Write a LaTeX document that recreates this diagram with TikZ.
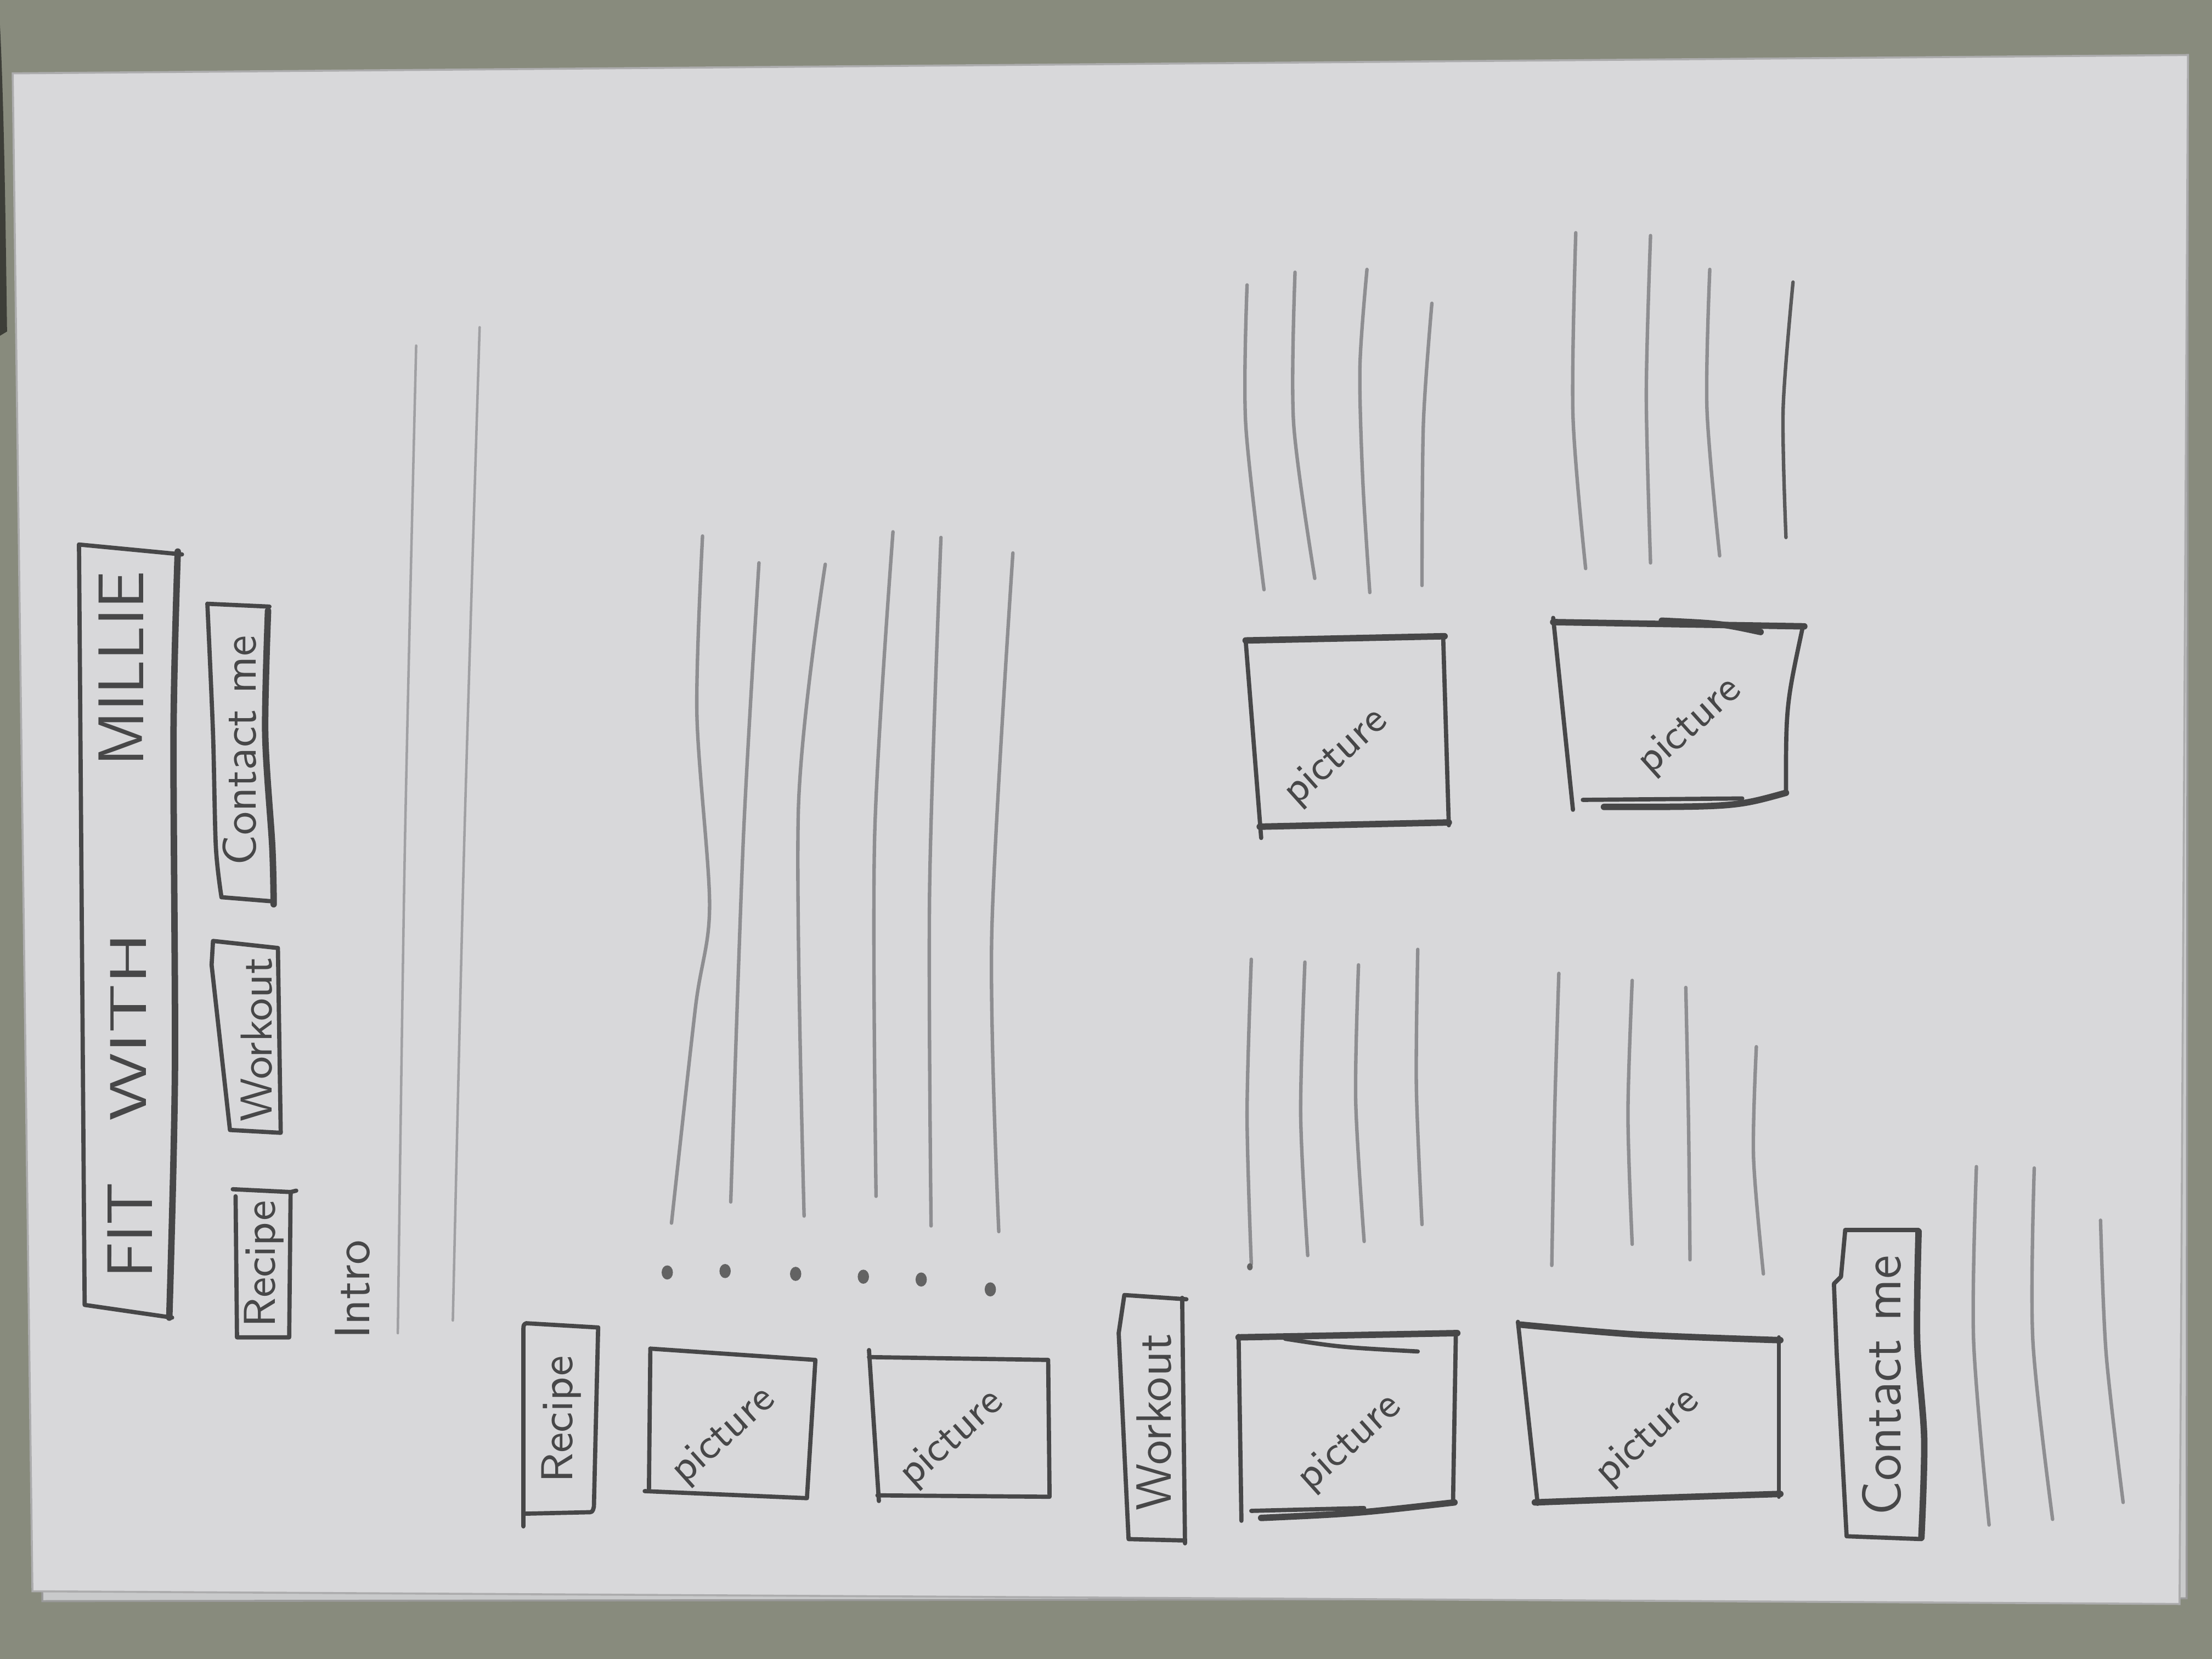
\documentclass[tikz,border=0pt]{standalone}
\usepackage{fontspec}
\definecolor{wall}{HTML}{888B7D}
\definecolor{sheet}{HTML}{D8D8DA}
\definecolor{undersheet}{HTML}{C9CACB}
\definecolor{graphite}{HTML}{474748}
\definecolor{lightgraphite}{HTML}{8E8E91}
\tikzset{
  pen/.style={draw=graphite, line width=0.85pt, line join=round, line cap=round},
  heavypen/.style={pen, line width=1.3pt},
  textline/.style={draw=lightgraphite, line width=0.7pt, line cap=round},
  faintline/.style={draw=lightgraphite!75!sheet, line width=0.5pt, line cap=round},
  hand/.style={text=graphite, inner sep=0pt},
  sidelabel/.style={hand, rotate=90},
  piclabel/.style={hand, rotate=42, font=\sffamily\fontsize{8.5}{9}\selectfont},
  bulletdot/.style={fill=graphite!85, draw=none},
}
\begin{document}
\begin{tikzpicture}[x=0.01cm, y=-0.01cm]
        	\useasboundingbox (0,0) rectangle (1568,1176);
        	% Table and paper:
        	\fill[wall] (0,0) rectangle (1568,1176);
        	\fill[black!55!wall] (0,18) .. controls (3,80) and (4,160) .. (5,235) -- (0,238) -- cycle;
        	\filldraw[fill=undersheet, draw=graphite!55] (30,60) -- (1551,40) -- (1550,1133) -- (30,1135) -- cycle;
        	\filldraw[fill=sheet, draw=graphite!45] (9,52) -- (1551,39) -- (1545,1137) -- (23,1128) -- cycle;

        	% Header:
        	\draw[pen] (56,386) -- (129,393);
        	\draw[heavypen] plot[smooth] coordinates {(126,391) (123,520) (124,760) (120,934)};
        	\draw[pen] (56,386) -- (60,925) -- (122,934);
        	\node[sidelabel, font=\sffamily\fontsize{13}{14}\selectfont] (fit) at (92,872) {FIT};
        	\node[sidelabel, font=\sffamily\fontsize{13}{14}\selectfont] (with) at (91,728) {\scalebox{1.15}[0.8]{WITH}};
        	\node[sidelabel, font=\sffamily\fontsize{13}{14}\selectfont] (millie) at (86,474) {MILLIE};

        	% Menu:
        	\draw[pen] (167,848) -- (168,948) -- (205,948) -- (206,845) -- (165,843);
        	\draw[pen] (206,845) -- (210,844);
        	\node[sidelabel, font=\sffamily\fontsize{9}{10}\selectfont] (menurecipe) at (187,896) {Recipe};
        	\draw[pen] (151,667) -- (197,672) -- (199,803) -- (163,801) -- (150,684) -- cycle;
        	\node[sidelabel, font=\sffamily\fontsize{9}{10}\selectfont] (menuworkout) at (182,737) {Workout};
        	\draw[pen] (147,428) -- (191,430);
        	\draw[heavypen] plot[smooth] coordinates {(190,433) (188,520) (193,600) (194,641)};
        	\draw[pen] plot[smooth] coordinates {(147,428) (151,520) (153,600) (157,636)};
        	\draw[pen] (157,636) -- (194,639);
        	\node[sidelabel, font=\sffamily\fontsize{9.5}{10}\selectfont] (menucontact) at (170,532) {Contact me};

        	% Intro:
        	\node[sidelabel, font=\sffamily\fontsize{10}{11}\selectfont] (intro) at (250,914) {Intro};
        	\draw[faintline] plot[smooth] coordinates {(295,245) (287,600) (282,945)};
        	\draw[faintline] plot[smooth] coordinates {(340,232) (329,600) (321,936)};

        	% Recipe text:
        	\draw[textline] plot[smooth] coordinates {(498,380) (494,506) (503,642) (493,714) (476,867)};
        	\draw[textline] plot[smooth] coordinates {(538,399) (527,593) (518,852)};
        	\draw[textline] plot[smooth] coordinates {(585,400) (566,572) (570,862)};
        	\draw[textline] plot[smooth] coordinates {(633,377) (620,593) (621,848)};
        	\draw[textline] plot[smooth] coordinates {(667,381) (659,628) (660,869)};
        	\draw[textline] plot[smooth] coordinates {(718,392) (703,663) (708,873)};
        	\foreach \dx/\dy in {473/902, 514/901, 564/903, 612/905, 653/907, 702/914}
        	  \fill[bulletdot] (\dx,\dy) ellipse [x radius=0.04cm, y radius=0.05cm];

        	% Recipe:
        	\draw[pen] (424,941) -- (373,938) .. controls (371,939) .. (371,945) -- (371,1082);
        	\draw[pen] (424,941) -- (421,1068) .. controls (420,1072) .. (416,1072) -- (372,1073);
        	\node[sidelabel, font=\sffamily\fontsize{9}{10}\selectfont] (recipe) at (398,1006) {Recipe};
        	\draw[pen] (461,956) -- (578,964) -- (572,1062) -- (457,1057);
        	\draw[pen] (461,956) -- (460,1057);
        	\node[piclabel] (recipepicA) at (513,1018) {picture};
        	\draw[pen] (616,957) -- (623,1064);
        	\draw[pen] (616,962) -- (743,964) -- (744,1061) -- (622,1060);
        	\node[piclabel] (recipepicB) at (675,1020) {picture};

        	% Workout text:
        	\draw[textline] plot[smooth] coordinates {(887,680) (884,790) (887,896)};
        	\draw[textline] plot[smooth] coordinates {(925,682) (922,790) (927,890)};
        	\draw[textline] plot[smooth] coordinates {(963,684) (961,780) (967,880)};
        	\draw[textline] plot[smooth] coordinates {(1005,673) (1004,770) (1008,868)};
        	\draw[textline] plot[smooth] coordinates {(1105,690) (1102,790) (1100,897)};
        	\draw[textline] plot[smooth] coordinates {(1157,695) (1154,790) (1157,882)};
        	\draw[textline] plot[smooth] coordinates {(1195,700) (1197,800) (1198,893)};
        	\draw[textline] plot[smooth] coordinates {(1245,742) (1243,820) (1250,903)};
        	\fill[bulletdot] (886,898) ellipse [x radius=0.02cm, y radius=0.025cm];

        	% Workout:
        	\draw[pen] (793,945) -- (797,918) -- (841,921);
        	\draw[pen] (838,920) -- (840,1094);
        	\draw[pen] (793,945) -- (800,1091) -- (840,1092);
        	\node[sidelabel, font=\sffamily\fontsize{10}{11}\selectfont] (workout) at (818,1008) {Workout};
        	\draw[pen] (878,947) -- (880,1078);
        	\draw[heavypen] (878,948) -- (1033,945);
        	\draw[pen] (911,949) .. controls (950,955) .. (1005,958);
        	\draw[pen] (1032,945) -- (1030,1065);
        	\draw[heavypen] (894,1076) .. controls (960,1073) .. (1031,1065);
        	\draw[pen] (887,1071) -- (967,1069);
        	\node[piclabel] (workoutpicA) at (957,1023) {picture};
        	\draw[pen] (1076,937) -- (1090,1066);
        	\draw[heavypen] plot[smooth] coordinates {(1078,939) (1160,946) (1262,950)};
        	\draw[pen] (1261,948) -- (1261,1061);
        	\draw[heavypen] plot[smooth] coordinates {(1088,1065) (1170,1062) (1262,1059)};
        	\node[piclabel] (workoutpicB) at (1168,1019) {picture};

        	% Upper text:
        	\draw[textline] plot[smooth] coordinates {(884,202) (883,300) (896,418)};
        	\draw[textline] plot[smooth] coordinates {(918,193) (917,300) (932,410)};
        	\draw[textline] plot[smooth] coordinates {(969,191) (964,260) (966,340) (971,420)};
        	\draw[textline] plot[smooth] coordinates {(1015,215) (1009,300) (1008,415)};
        	\draw[textline] plot[smooth] coordinates {(1117,165) (1115,294) (1124,403)};
        	\draw[textline] plot[smooth] coordinates {(1170,167) (1167,280) (1170,399)};
        	\draw[textline] plot[smooth] coordinates {(1212,191) (1210,290) (1219,394)};
        	\draw[textline, draw=graphite!90] plot[smooth] coordinates {(1271,200) (1264,290) (1266,381)};

        	% Upper pictures:
        	\draw[pen] (883,454) -- (894,594);
        	\draw[heavypen] (883,454) -- (1024,451);
        	\draw[pen] (1023,451) -- (1027,585);
        	\draw[heavypen] (893,586) -- (1027,583);
        	\node[piclabel] (upperpicA) at (947,537) {picture};
        	\draw[pen] (1101,438) -- (1115,574);
        	\draw[heavypen] (1101,441) -- (1279,444);
        	\draw[heavypen] (1178,440) .. controls (1220,442) .. (1248,448);
        	\draw[pen] (1278,444) .. controls (1266,500) .. (1266,562);
        	\draw[pen] (1122,567) -- (1235,566);
        	\draw[heavypen] (1137,572) .. controls (1230,572) .. (1266,562);
        	\node[piclabel] (upperpicB) at (1198,515) {picture};

        	% Contact:
        	\draw[pen] (1308,872) -- (1360,872);
        	\draw[heavypen] plot[smooth] coordinates {(1360,873) (1359,950) (1364,1020) (1362,1090)};
        	\draw[pen] (1308,872) -- (1305,905) -- (1300,910) -- (1302,960) -- (1309,1089) -- (1362,1091);
        	\node[sidelabel, font=\sffamily\fontsize{11}{12}\selectfont] (contact) at (1334,982) {Contact me};
        	\draw[textline] plot[smooth] coordinates {(1401,827) (1399,950) (1410,1081)};
        	\draw[textline] plot[smooth] coordinates {(1442,828) (1441,950) (1455,1077)};
        	\draw[textline] plot[smooth] coordinates {(1489,865) (1493,960) (1505,1065)};
        \end{tikzpicture}
\end{document}
